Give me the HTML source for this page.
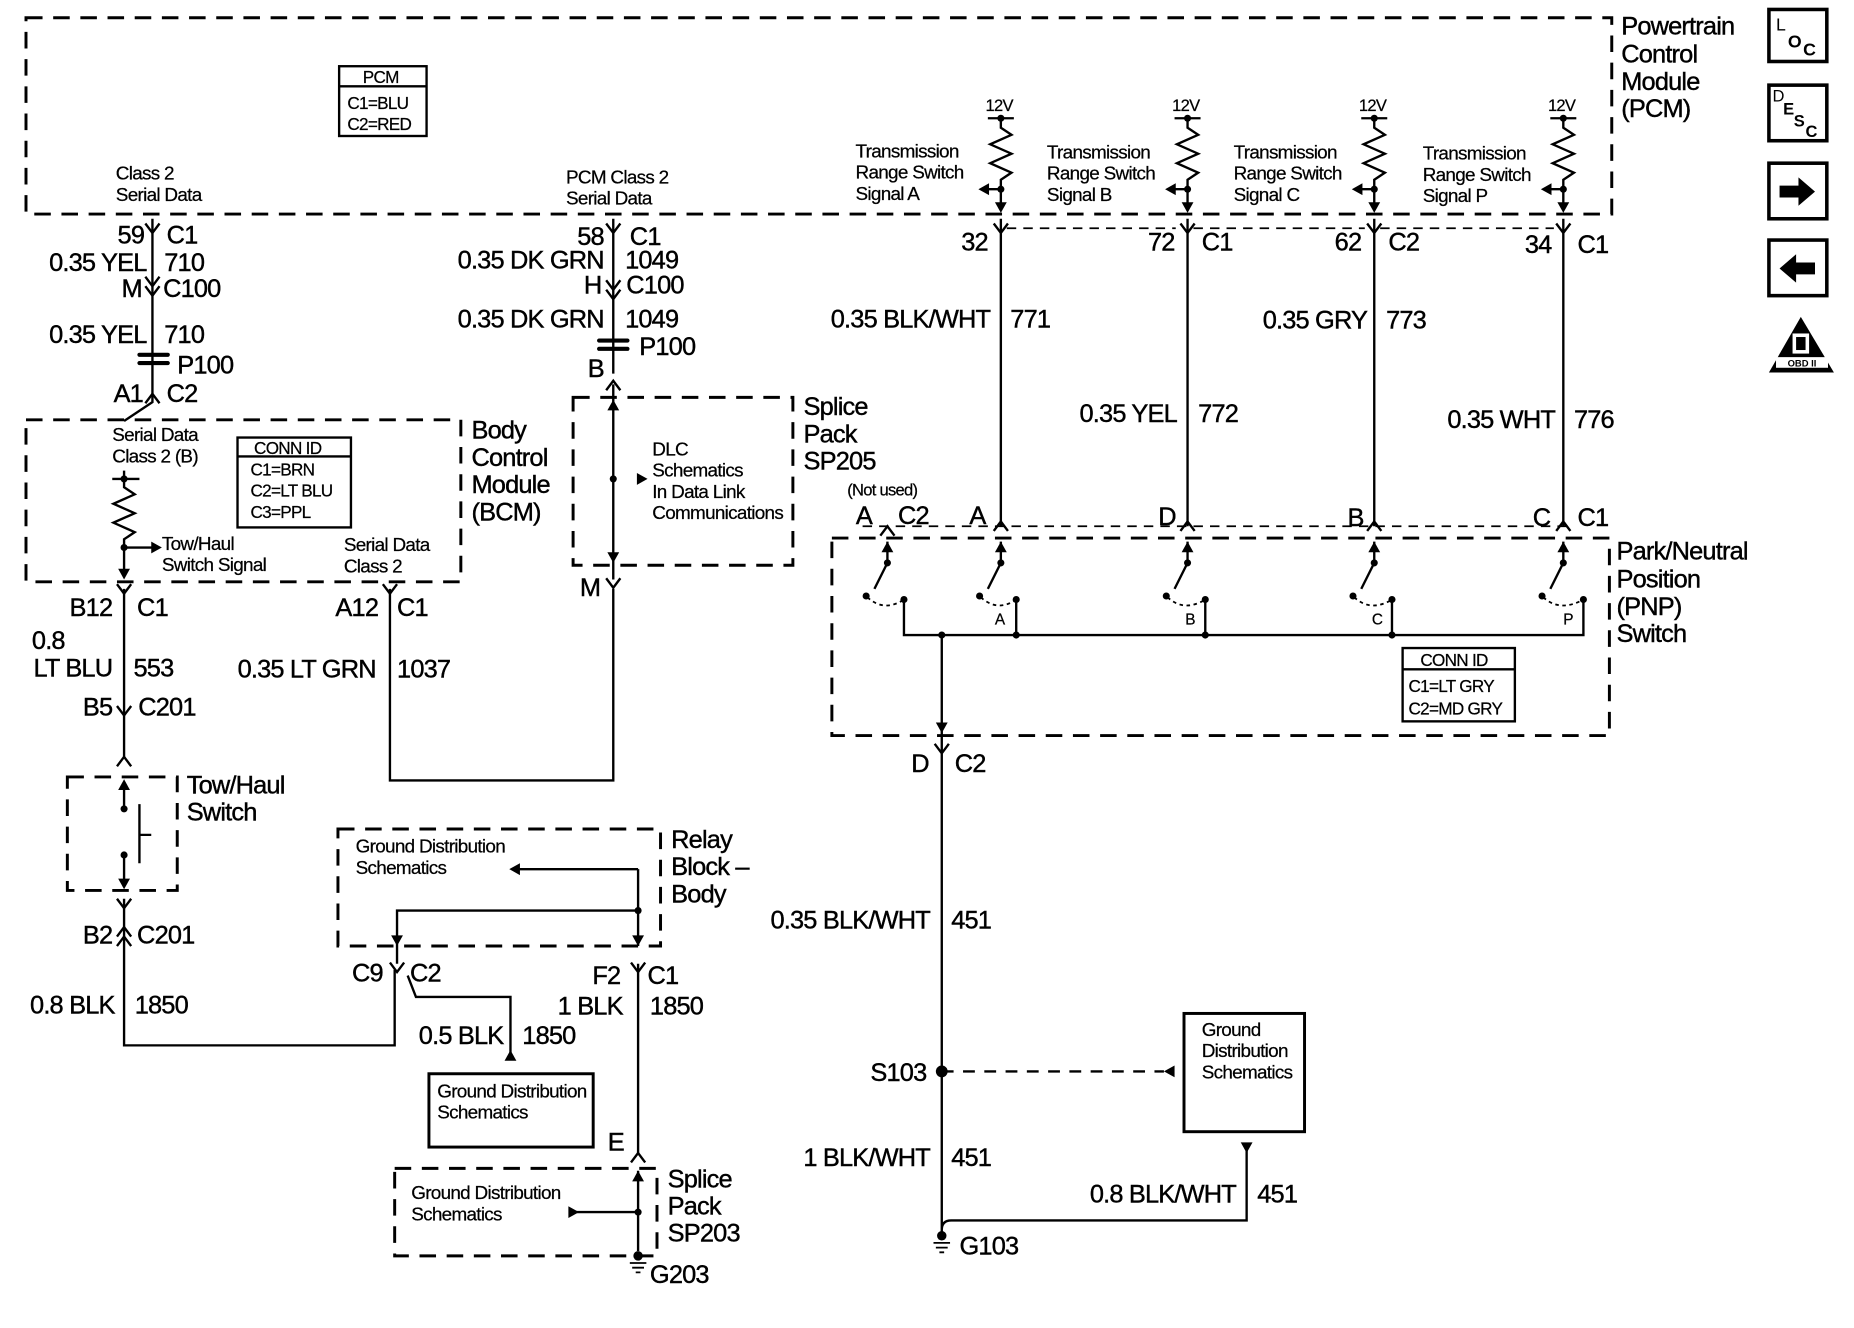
<!DOCTYPE html>
<html><head><meta charset="utf-8"><style>
html,body{margin:0;padding:0;background:#fff}
svg{display:block}
text{font-family:"Liberation Sans",Arial,sans-serif;fill:#000}
.b{font-size:21.5px;letter-spacing:-0.7px;stroke:#000;stroke-width:0.35px}
.s{font-size:16px;letter-spacing:-0.6px;stroke:#000;stroke-width:0.2px}
.r{text-anchor:end}
</style></head><body>
<svg width="1854" height="1328" viewBox="0 0 1569 1123" preserveAspectRatio="none" xmlns="http://www.w3.org/2000/svg">
<defs>
<path id="v" d="M-6 -8 L0 0 L6 -8" fill="none" stroke="#000" stroke-width="2"/>
<path id="u" d="M-6 8 L0 0 L6 8" fill="none" stroke="#000" stroke-width="2"/>
<path id="au" d="M-5 9 L0 0 L5 9Z" fill="#000"/>
<path id="ad" d="M-5 -9 L0 0 L5 -9Z" fill="#000"/>
<path id="ar" d="M-9 -5 L0 0 L-9 5Z" fill="#000"/>
<path id="al" d="M9 -5 L0 0 L9 5Z" fill="#000"/>
</defs>
<g fill="none" stroke="#000" stroke-width="2.5" stroke-dasharray="14 9">
<rect x="22" y="15" width="1342" height="166"/>
<rect x="22" y="355" width="368" height="137"/>
<rect x="485" y="336" width="186" height="142"/>
<rect x="704" y="455" width="658" height="167"/>
<rect x="57" y="657" width="93" height="96"/>
<rect x="286" y="701" width="273" height="99"/>
<rect x="334" y="988" width="222" height="74"/>
</g>
<g fill="none" stroke="#000" stroke-width="2">
<path d="M129 185V340L105 356"/>
<path d="M105 398V405M105 498V640M105 760V884H334V820"/>
<path d="M330 498V660H519V498"/>
<path d="M519 185V316M519 325V490"/>
<path d="M847 185V445M1005 185V445M1163 185V445M1323 185V445"/>
<path d="M797 537V1045M1055 967V1032H805Q797 1032 797 1040"/>
<path d="M540 815V975M540 990V1058"/>
<path d="M336 815V770H540M540 735H437M540 735V800M345 825L352 843H432V890"/>
<path d="M485 1025H540"/>
<path d="M95 405H118M105 405V412L114 418L96 426L114 434L96 442L114 450L105 456V488M105 463H130"/>
<path d="M105 662V685M105 722V750M118 680V730M118 706H128"/>
<path d="M765 507V537H1340V507M860 507V537M1020 507V537M1178 507V537"/>
<path d="M797 906H985" stroke-dasharray="10 8"/>
<path d="M852 193H995M1010 193H1155M1168 193H1315" stroke-dasharray="8 6" stroke-width="1.5"/>
<path d="M730 445H1330" stroke-dasharray="8 6" stroke-width="1.5"/>
</g>
<g fill="none" stroke="#000" stroke-width="2">
<path d="M836 100H858M847 100V108L856 114L838 122L856 130L838 138L856 146L847 152V178M847 160H830"/>
<path d="M994 100H1016M1005 100V108L1014 114L996 122L1014 130L996 138L1014 146L1005 152V178M1005 160H988"/>
<path d="M1152 100H1174M1163 100V108L1172 114L1154 122L1172 130L1154 138L1172 146L1163 152V178M1163 160H1146"/>
<path d="M1312 100H1334M1323 100V108L1332 114L1314 122L1332 130L1314 138L1332 146L1323 152V178M1323 160H1306"/>
</g>
<g fill="#000">
<circle cx="847" cy="100" r="3"/><circle cx="847" cy="160" r="3"/>
<circle cx="1005" cy="100" r="3"/><circle cx="1005" cy="160" r="3"/>
<circle cx="1163" cy="100" r="3"/><circle cx="1163" cy="160" r="3"/>
<circle cx="1323" cy="100" r="3"/><circle cx="1323" cy="160" r="3"/>
<use href="#al" x="828" y="160"/><use href="#al" x="986" y="160"/><use href="#al" x="1144" y="160"/><use href="#al" x="1304" y="160"/>
<use href="#ad" x="847" y="180"/><use href="#ad" x="1005" y="180"/><use href="#ad" x="1163" y="180"/><use href="#ad" x="1323" y="180"/>
<circle cx="105" cy="405" r="3"/><circle cx="105" cy="463" r="3"/>
<use href="#ar" x="137" y="463"/><use href="#ad" x="105" y="490"/>
<use href="#ar" x="548" y="405"/><circle cx="519" cy="405" r="3"/>
<use href="#au" x="519" y="338"/><use href="#ad" x="519" y="476"/>
<circle cx="105" cy="684" r="3"/><circle cx="105" cy="723" r="3"/>
<use href="#au" x="105" y="659"/><use href="#ad" x="105" y="752"/>
<use href="#al" x="431" y="735"/><circle cx="540" cy="770" r="3"/>
<use href="#ad" x="336" y="800"/><use href="#ad" x="540" y="800"/>
<use href="#au" x="432" y="888"/>
<use href="#au" x="540" y="990"/>
<use href="#ar" x="490" y="1025"/><circle cx="540" cy="1025" r="3"/>
<circle cx="540" cy="1062" r="4"/><circle cx="797" cy="1045" r="4"/>
<circle cx="797" cy="906" r="5"/><use href="#al" x="985" y="906"/>
<use href="#ad" x="1055" y="975"/>
<circle cx="797" cy="537" r="3"/>
<circle cx="765" cy="507" r="3"/><circle cx="860" cy="507" r="3"/><circle cx="1020" cy="507" r="3"/><circle cx="1178" cy="507" r="3"/><circle cx="1340" cy="507" r="3"/>
<circle cx="860" cy="537" r="3"/><circle cx="1020" cy="537" r="3"/><circle cx="1178" cy="537" r="3"/>
<use href="#ad" x="797" y="620"/>
</g>
<g stroke="#000" stroke-width="1.5">
<path d="M533 1068H547M535 1072H545M538 1076H542"/>
<path d="M790 1051H804M792 1055H802M795 1059H799"/>
</g>
<g fill="none" stroke="#000" stroke-width="2">
<path d="M751 458V476L740 498"/><path d="M847 458V476L836 498"/><path d="M1005 458V476L994 498"/><path d="M1163 458V476L1152 498"/><path d="M1323 458V476L1312 498"/>
<g stroke-dasharray="3 3" stroke-width="1.5"><path d="M734 505Q748 518 765 507"/><path d="M830 505Q844 518 860 507"/><path d="M988 505Q1002 518 1020 507"/><path d="M1146 505Q1160 518 1178 507"/><path d="M1306 505Q1320 518 1340 507"/></g>
</g>
<g fill="#000">
<use href="#au" x="751" y="458"/><use href="#au" x="847" y="458"/><use href="#au" x="1005" y="458"/><use href="#au" x="1163" y="458"/><use href="#au" x="1323" y="458"/>
<circle cx="751" cy="476" r="3"/><circle cx="847" cy="476" r="3"/><circle cx="1005" cy="476" r="3"/><circle cx="1163" cy="476" r="3"/><circle cx="1323" cy="476" r="3"/>
<circle cx="733" cy="504" r="3"/><circle cx="829" cy="504" r="3"/><circle cx="987" cy="504" r="3"/><circle cx="1145" cy="504" r="3"/><circle cx="1305" cy="504" r="3"/>
</g>
<g>
<use href="#v" x="129" y="197"/><use href="#v" x="129" y="242"/><use href="#v" x="129" y="250"/><use href="#u" x="129" y="333"/>
<use href="#v" x="105" y="502"/><use href="#v" x="105" y="605"/><use href="#u" x="105" y="640"/><use href="#v" x="105" y="768"/><use href="#u" x="105" y="784"/><use href="#u" x="105" y="792"/>
<use href="#v" x="330" y="502"/><use href="#v" x="519" y="497"/>
<use href="#v" x="519" y="197"/><use href="#v" x="519" y="245"/><use href="#v" x="519" y="253"/><use href="#u" x="519" y="322"/>
<use href="#v" x="847" y="197"/><use href="#v" x="1005" y="197"/><use href="#v" x="1163" y="197"/><use href="#v" x="1323" y="197"/>
<use href="#u" x="751" y="445"/><use href="#u" x="847" y="441"/><use href="#u" x="1005" y="441"/><use href="#u" x="1163" y="441"/><use href="#u" x="1323" y="441"/>
<use href="#v" x="797" y="637"/><use href="#v" x="336" y="822"/><use href="#v" x="540" y="822"/><use href="#u" x="540" y="975"/>
</g>
<g stroke="#000" stroke-width="3.5" fill="none" stroke-linecap="round">
<path d="M118 300H142M118 307H142M507 288H531M507 295H531"/>
</g>
<g fill="none" stroke="#000" stroke-width="2">
<rect x="287" y="56" width="74" height="59"/><path d="M287 73H361"/>
<rect x="201" y="370" width="96" height="76"/><path d="M201 386H297"/>
<rect x="1187" y="548" width="95" height="62"/><path d="M1187 566H1282"/>
<rect x="1002" y="857" width="102" height="100" stroke-width="2.5"/>
<rect x="363" y="908" width="139" height="62" stroke-width="2.5"/>
<rect x="1497" y="8" width="49" height="44" stroke-width="3"/>
<rect x="1497" y="72" width="49" height="47" stroke-width="3"/>
<rect x="1497" y="138" width="49" height="47" stroke-width="3"/>
<rect x="1497" y="203" width="49" height="47" stroke-width="3"/>
</g>
<path d="M1506 157H1522V150L1536 162L1522 174V167H1506Z" fill="#000"/>
<path d="M1536 222H1520V215L1506 227L1520 239V232H1536Z" fill="#000"/>
<path d="M1524 268L1552 315H1497Z" fill="#000"/>
<rect x="1517" y="282" width="14" height="17" fill="#fff"/><rect x="1520" y="285" width="8" height="11" fill="#000"/>
<rect x="1503" y="302" width="44" height="9" fill="#fff"/>
<text x="1525" y="310" style="font-size:8px;font-weight:bold;text-anchor:middle">OBD II</text>
<text x="1503" y="26" style="font-size:15px">L</text><text x="1513" y="40" style="font-size:15px;font-weight:bold">O</text><text x="1526" y="47" style="font-size:15px;font-weight:bold">C</text>
<text x="1500" y="86" style="font-size:14px">D</text><text x="1509" y="97" style="font-size:14px;font-weight:bold">E</text><text x="1518" y="107" style="font-size:14px;font-weight:bold">S</text><text x="1528" y="116" style="font-size:14px;font-weight:bold">C</text>
<g class="b">
<text x="1372" y="29">Powertrain</text><text x="1372" y="53">Control</text><text x="1372" y="76">Module</text><text x="1372" y="99">(PCM)</text>
<text x="399" y="371">Body</text><text x="399" y="394">Control</text><text x="399" y="417">Module</text><text x="399" y="440">(BCM)</text>
<text x="680" y="351">Splice</text><text x="680" y="374">Pack</text><text x="680" y="397">SP205</text>
<text x="1368" y="473">Park/Neutral</text><text x="1368" y="497">Position</text><text x="1368" y="520">(PNP)</text><text x="1368" y="543">Switch</text>
<text x="158" y="671">Tow/Haul</text><text x="158" y="694">Switch</text>
<text x="568" y="717">Relay</text><text x="568" y="740">Block –</text><text x="568" y="763">Body</text>
<text x="565" y="1004">Splice</text><text x="565" y="1027">Pack</text><text x="565" y="1050">SP203</text>
<text x="550" y="1085">G203</text><text x="812" y="1061">G103</text>
<text x="122" y="206" class="r">59</text><text x="141" y="206">C1</text>
<text x="124" y="229" class="r">0.35 YEL</text><text x="139" y="229">710</text>
<text x="120" y="251" class="r">M</text><text x="138" y="251">C100</text>
<text x="124" y="290" class="r">0.35 YEL</text><text x="139" y="290">710</text>
<text x="150" y="316">P100</text>
<text x="121" y="340" class="r">A1</text><text x="141" y="340">C2</text>
<text x="95" y="521" class="r">B12</text><text x="116" y="521">C1</text>
<text x="27" y="549">0.8</text><text x="95" y="572" class="r">LT BLU</text><text x="113" y="572">553</text>
<text x="95" y="605" class="r">B5</text><text x="117" y="605">C201</text>
<text x="95" y="798" class="r">B2</text><text x="116" y="798">C201</text>
<text x="97" y="857" class="r">0.8 BLK</text><text x="114" y="857">1850</text>
<text x="320" y="521" class="r">A12</text><text x="336" y="521">C1</text>
<text x="318" y="573" class="r">0.35 LT GRN</text><text x="336" y="573">1037</text>
<text x="511" y="207" class="r">58</text><text x="533" y="207">C1</text>
<text x="511" y="227" class="r">0.35 DK GRN</text><text x="529" y="227">1049</text>
<text x="509" y="248" class="r">H</text><text x="530" y="248">C100</text>
<text x="511" y="277" class="r">0.35 DK GRN</text><text x="529" y="277">1049</text>
<text x="541" y="300">P100</text><text x="511" y="319" class="r">B</text>
<text x="508" y="504" class="r">M</text>
<text x="836" y="212" class="r">32</text><text x="994" y="212" class="r">72</text><text x="1017" y="212">C1</text>
<text x="1152" y="212" class="r">62</text><text x="1175" y="212">C2</text>
<text x="1313" y="214" class="r">34</text><text x="1335" y="214">C1</text>
<text x="838" y="277" class="r">0.35 BLK/WHT</text><text x="855" y="277">771</text>
<text x="996" y="357" class="r">0.35 YEL</text><text x="1014" y="357">772</text>
<text x="1157" y="278" class="r">0.35 GRY</text><text x="1173" y="278">773</text>
<text x="1316" y="362" class="r">0.35 WHT</text><text x="1332" y="362">776</text>
<text x="738" y="443" class="r">A</text><text x="760" y="443">C2</text><text x="834" y="443" class="r">A</text>
<text x="995" y="444" class="r">D</text><text x="1154" y="445" class="r">B</text><text x="1312" y="445" class="r">C</text><text x="1335" y="445">C1</text>
<text x="786" y="653" class="r">D</text><text x="808" y="653">C2</text>
<text x="787" y="785" class="r">0.35 BLK/WHT</text><text x="805" y="785">451</text>
<text x="784" y="914" class="r">S103</text>
<text x="787" y="986" class="r">1 BLK/WHT</text><text x="805" y="986">451</text>
<text x="1046" y="1017" class="r">0.8 BLK/WHT</text><text x="1064" y="1017">451</text>
<text x="324" y="830" class="r">C9</text><text x="347" y="830">C2</text>
<text x="525" y="832" class="r">F2</text><text x="548" y="832">C1</text>
<text x="527" y="858" class="r">1 BLK</text><text x="550" y="858">1850</text>
<text x="426" y="883" class="r">0.5 BLK</text><text x="442" y="883">1850</text>
<text x="528" y="973" class="r">E</text>
</g>
<g class="s">
<text x="307" y="70" style="font-size:14.5px">PCM</text><text x="294" y="92" style="font-size:14.5px">C1=BLU</text><text x="294" y="110" style="font-size:14.5px">C2=RED</text>
<text x="98" y="152">Class 2</text><text x="98" y="170">Serial Data</text>
<text x="479" y="155">PCM Class 2</text><text x="479" y="173">Serial Data</text>
<text x="724" y="133">Transmission</text><text x="724" y="151">Range Switch</text><text x="724" y="169">Signal A</text>
<text x="886" y="134">Transmission</text><text x="886" y="152">Range Switch</text><text x="886" y="170">Signal B</text>
<text x="1044" y="134">Transmission</text><text x="1044" y="152">Range Switch</text><text x="1044" y="170">Signal C</text>
<text x="1204" y="135">Transmission</text><text x="1204" y="153">Range Switch</text><text x="1204" y="171">Signal P</text>
<text x="834" y="94" style="font-size:14px">12V</text><text x="992" y="94" style="font-size:14px">12V</text><text x="1150" y="94" style="font-size:14px">12V</text><text x="1310" y="94" style="font-size:14px">12V</text>
<text x="95" y="373">Serial Data</text><text x="95" y="391">Class 2 (B)</text>
<text x="215" y="384" style="font-size:14.5px">CONN ID</text><text x="212" y="402" style="font-size:14.5px">C1=BRN</text><text x="212" y="420" style="font-size:14.5px">C2=LT BLU</text><text x="212" y="438" style="font-size:14.5px">C3=PPL</text>
<text x="137" y="465">Tow/Haul</text><text x="137" y="483">Switch Signal</text>
<text x="291" y="466">Serial Data</text><text x="291" y="484">Class 2</text>
<text x="552" y="385">DLC</text><text x="552" y="403">Schematics</text><text x="552" y="421">In Data Link</text><text x="552" y="439">Communications</text>
<text x="717" y="419" style="font-size:14px">(Not used)</text>
<text x="842" y="528" style="font-size:13px">A</text><text x="1003" y="528" style="font-size:13px">B</text><text x="1161" y="528" style="font-size:13px">C</text><text x="1323" y="528" style="font-size:13px">P</text>
<text x="1202" y="563" style="font-size:14.5px">CONN ID</text><text x="1192" y="585" style="font-size:14.5px">C1=LT GRY</text><text x="1192" y="604" style="font-size:14.5px">C2=MD GRY</text>
<text x="1017" y="876">Ground</text><text x="1017" y="894">Distribution</text><text x="1017" y="912">Schematics</text>
<text x="301" y="721">Ground Distribution</text><text x="301" y="739">Schematics</text>
<text x="370" y="928">Ground Distribution</text><text x="370" y="946">Schematics</text>
<text x="348" y="1014">Ground Distribution</text><text x="348" y="1032">Schematics</text>
</g>
</svg>
</body></html>
